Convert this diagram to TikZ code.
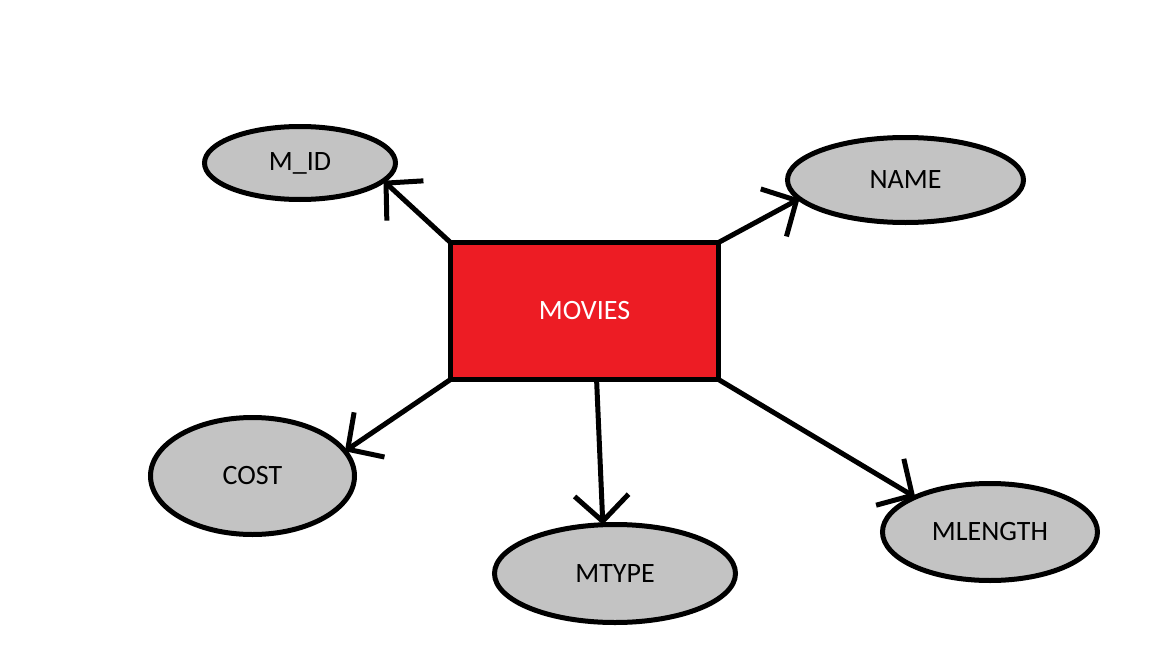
\documentclass[tikz,border=0pt]{standalone}
\usepackage{fontspec}
\setmainfont{Carlito}
\usetikzlibrary{shapes.geometric,arrows.meta}
\definecolor{paintred}{HTML}{ED1C24}
\definecolor{paintgray}{HTML}{C3C3C3}
\begin{document}
\begin{tikzpicture}[x=0.5pt,y=-0.5pt,line width=2.5pt,
    attr/.style={ellipse,draw,fill=paintgray,inner sep=0pt,outer sep=0pt,font=\fontsize{14}{16}\selectfont},
    link/.style={-{Straight Barb[length=13pt,width=27pt]}}]
            \useasboundingbox (0,0) rectangle (1152,648);
            \node[rectangle,draw,fill=paintred,text=white,minimum width=134pt,minimum height=68.5pt,inner sep=0pt,outer sep=0pt,font=\fontsize{14}{16}\selectfont] (movies) at (584.5,311) {MOVIES};
            \node[attr,minimum width=95.5pt,minimum height=36.5pt] (mid) at (300,163) {M\_ID};
            \node[attr,minimum width=118pt,minimum height=42.5pt] (name) at (905.5,180) {NAME};
            \node[attr,minimum width=102pt,minimum height=58.5pt] (cost) at (252.5,476) {COST};
            \node[attr,minimum width=120.5pt,minimum height=49pt] (mtype) at (615,573.5) {MTYPE};
            \node[attr,minimum width=107.5pt,minimum height=48.5pt] (mlength) at (990,532) {MLENGTH};
            \draw[link] (movies.north west)--(mid.-12);
            \draw[link] (movies.north east)--(name.190);
            \draw[link] (movies.south west)--(cost.15);
            \draw[link] (movies.-80)--(mtype.104);
            \draw[link] (movies.south east)--(mlength.155);
            \end{tikzpicture}
\end{document}
